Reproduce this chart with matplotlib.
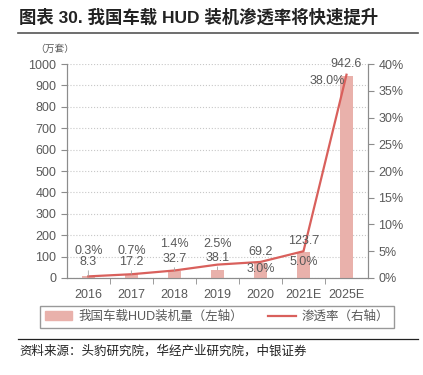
import matplotlib.pyplot as plt
from matplotlib.lines import Line2D
from matplotlib.patches import Patch
from matplotlib.ticker import FuncFormatter, MultipleLocator

plt.rcParams["font.family"] = ["Liberation Sans", "Noto Sans CJK SC", "DejaVu Sans"]

years = ["2016", "2017", "2018", "2019", "2020", "2021E", "2025E"]
volume = [8.3, 17.2, 32.7, 38.1, 69.2, 123.7, 942.6]
rate = [0.3, 0.7, 1.4, 2.5, 3.0, 5.0, 38.0]
volume_labels = ["8.3", "17.2", "32.7", "38.1", "69.2", "123.7", "942.6"]
rate_labels = ["0.3%", "0.7%", "1.4%", "2.5%", "3.0%", "5.0%", "38.0%"]

BAR_COLOR = "#e9b1ab"
LINE_COLOR = "#d9605c"
TEXT_COLOR = "#595959"
AXIS_COLOR = "#8c8c8c"

# label placement (left-axis units), tuned to the reference
vol_label_y = [75, 75, 89, 93, 121, 173, 1000]
rate_label_y = [126, 126, 159, 159, 42, 75, 920]
rate_label_dx = [0, 0, 0, 0, 0, 0, -0.45]

fig = plt.figure(figsize=(4.23, 3.75), dpi=100)
ax = fig.add_axes([0.158, 0.2587, 0.712, 0.5706])
ax2 = ax.twinx()

x = list(range(len(years)))
ax.bar(x, volume, width=0.3, color=BAR_COLOR, zorder=2)
# line drawn on the left axis (scaled) so it sits above the bars
ax.plot(x, [r * 25 for r in rate], color=LINE_COLOR, lw=1.6, zorder=3)

ax.set_xlim(-0.5, len(years) - 0.5)
ax.set_ylim(0, 1000)
ax2.set_ylim(0, 40)
ax.yaxis.set_major_locator(MultipleLocator(100))
ax2.yaxis.set_major_locator(MultipleLocator(5))
ax2.yaxis.set_major_formatter(FuncFormatter(lambda v, p: f"{v:.0f}%"))

ax.set_xticks(x)
ax.set_xticklabels(years)
ax.set_xticks([i + 0.5 for i in x[:-1]], minor=True)
ax.tick_params(axis="x", which="major", length=0, pad=8, labelsize=9, colors=TEXT_COLOR)
ax.tick_params(axis="x", which="minor", length=4, direction="out", color=AXIS_COLOR)
ax.tick_params(axis="y", length=4, labelsize=9, colors=TEXT_COLOR, color=AXIS_COLOR)
ax2.tick_params(axis="y", length=4, labelsize=9, colors=TEXT_COLOR, color=AXIS_COLOR)

ax.grid(axis="y", ls=":", color="#c8c8c8", lw=0.8, zorder=0)
for a in (ax, ax2):
    a.spines["top"].set_visible(False)
    for s in ("left", "right", "bottom"):
        a.spines[s].set_color(AXIS_COLOR)
ax.set_zorder(ax2.get_zorder() + 1)
ax.patch.set_visible(False)

for i in x:
    if i < 4:
        ax.annotate(volume_labels[i], xy=(i, volume[i]), xytext=(i, vol_label_y[i]),
                    ha="center", va="center", fontsize=9, color=TEXT_COLOR, zorder=4,
                    arrowprops=dict(arrowstyle="-", color="#a0a0a0", lw=0.6,
                                    shrinkA=5, shrinkB=0))
    else:
        ax.text(i, vol_label_y[i], volume_labels[i], ha="center", va="center",
                fontsize=9, color=TEXT_COLOR, zorder=4)
    ax.text(i + rate_label_dx[i], rate_label_y[i], rate_labels[i],
            ha="center", va="center", fontsize=9, color=TEXT_COLOR, zorder=4)

fig.text(0.13, 0.869, "（万套）", fontsize=7, color=TEXT_COLOR, ha="center", va="center")
fig.text(0.045, 0.955, "图表 30. 我国车载 HUD 装机渗透率将快速提升", fontsize=12.5,
         fontweight="bold", color="#222222", ha="left", va="center")
fig.add_artist(Line2D([0.042, 0.988], [0.912, 0.912], color="#555555", lw=1.2))
fig.add_artist(Line2D([0.042, 0.988], [0.096, 0.096], color="#222222", lw=0.9))
fig.text(0.045, 0.063, "资料来源：头豹研究院，华经产业研究院，中银证券", fontsize=9,
         style="italic", color="#222222", ha="left", va="center")

handles = [Patch(color=BAR_COLOR), Line2D([], [], color=LINE_COLOR, lw=1.6)]
leg = fig.legend(handles, ["我国车载HUD装机量（左轴）", "渗透率（右轴）"], loc="center",
                 bbox_to_anchor=(0.513, 0.155), ncol=2, fontsize=9, frameon=True,
                 fancybox=False, edgecolor="#808080", handlelength=2.2, columnspacing=2.0,
                 borderpad=0.4, borderaxespad=0, handletextpad=0.5)
leg.get_frame().set_linewidth(1.0)
for t in leg.get_texts():
    t.set_color(TEXT_COLOR)

fig.savefig("out.png", dpi=100)
